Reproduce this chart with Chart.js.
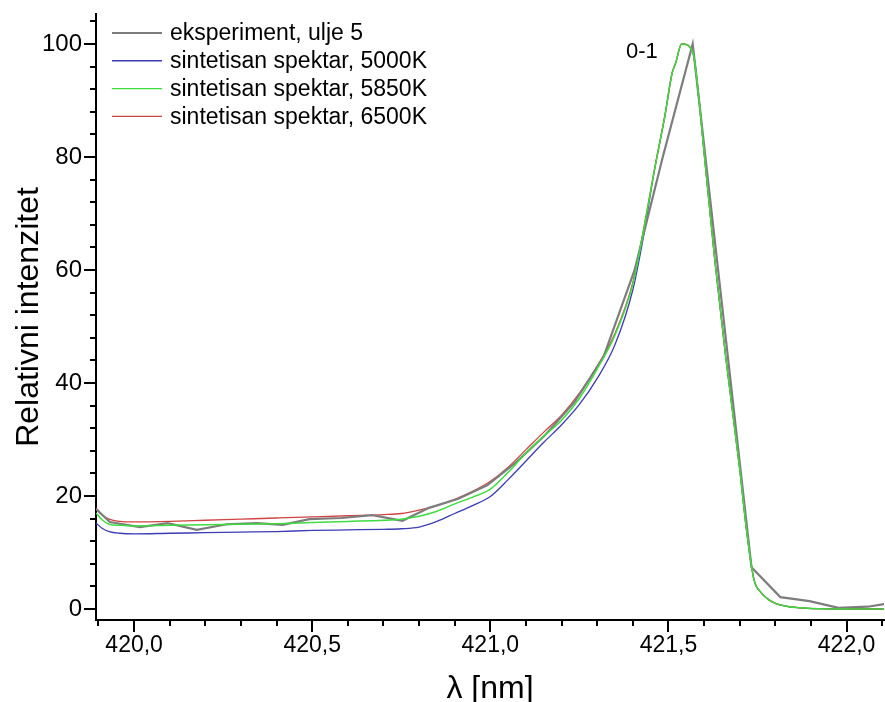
<!DOCTYPE html>
<html>
<head>
<meta charset="utf-8">
<script src="https://cdn.jsdelivr.net/npm/chart.js@4.4.1/dist/chart.umd.min.js"></script>
<style>
  html, body { margin: 0; padding: 0; background: #fff; }
  #wrap { width: 885px; height: 702px; }
</style>
</head>
<body>
<div id="wrap"><canvas id="spectrumChart" width="885" height="702"></canvas></div>
<script>
// eksperiment, ulje 5 (measured points, straight segments)
var expX = [419.893, 419.932, 420.016, 420.094, 420.176, 420.26, 420.344, 420.417, 420.492, 420.582,
            420.669, 420.753, 420.828, 420.91, 420.991, 421.073, 421.154, 421.236, 421.317, 421.405,
            421.484, 421.568, 421.65, 421.733, 421.814, 421.896, 421.977, 422.059, 422.14];
var expY = [17.7, 15.4, 14.5, 15.2, 14.0, 15.0, 15.2, 14.9, 15.9, 16.1,
            16.6, 15.6, 17.9, 19.5, 21.9, 26.0, 30.8, 36.6, 44.5, 60.0,
            80.0, 100.0, 54.0, 7.4, 2.1, 1.4, 0.2, 0.4, 1.2];

// synthetic spectra share one wavelength grid
var synthX = [419.893, 419.91, 419.93, 419.96, 420.0, 420.1, 420.2, 420.3, 420.4, 420.5,
              420.6, 420.7, 420.75, 420.8, 420.85, 420.9, 420.95, 421.0, 421.05, 421.1,
              421.15, 421.2, 421.25, 421.3, 421.35, 421.4, 421.43, 421.46, 421.49, 421.51,
              421.52, 421.537, 421.568, 421.585, 421.6, 421.63, 421.66, 421.7, 421.72, 421.74,
              421.76, 421.78, 421.8, 421.83, 421.87, 421.92, 422.0, 422.105];
var synth5000 = [15.2, 14.3, 13.7, 13.4, 13.3, 13.4, 13.5, 13.6, 13.7, 13.9,
                 14.0, 14.1, 14.2, 14.5, 15.5, 16.9, 18.3, 19.9, 22.9, 26.2,
                 29.5, 32.6, 36.2, 40.8, 46.8, 56.5, 66.0, 77.5, 87.3, 94.8,
                 96.6, 100.0, 98.6, 90.6, 80.8, 61.8, 45.0, 24.8, 13.5, 5.2,
                 2.9, 1.7, 1.0, 0.5, 0.2, 0.05, 0.0, 0.0];
var synth5850 = [17.0, 15.8, 15.0, 14.8, 14.7, 14.8, 14.9, 15.0, 15.1, 15.3,
                 15.5, 15.7, 15.9, 16.4, 17.3, 18.6, 19.8, 21.2, 24.2, 27.6,
                 30.6, 33.4, 37.3, 42.5, 48.5, 57.5, 67.0, 77.5, 87.3, 94.8,
                 96.6, 100.0, 98.6, 90.6, 80.8, 61.8, 45.0, 24.8, 13.5, 5.2,
                 2.9, 1.7, 1.0, 0.5, 0.2, 0.05, 0.0, 0.0];
var synth6500 = [17.9, 16.7, 15.9, 15.5, 15.4, 15.5, 15.7, 15.9, 16.1, 16.3,
                 16.5, 16.7, 16.9, 17.5, 18.3, 19.4, 20.8, 22.6, 25.1, 28.2,
                 31.3, 34.3, 38.2, 43.0, 48.8, 57.8, 67.2, 77.5, 87.3, 94.8,
                 96.6, 100.0, 98.6, 90.6, 80.8, 61.8, 45.0, 24.8, 13.5, 5.2,
                 2.9, 1.7, 1.0, 0.5, 0.2, 0.05, 0.0, 0.0];

var seriesNames = ['eksperiment, ulje 5', 'sintetisan spektar, 5000K', 'sintetisan spektar, 5850K', 'sintetisan spektar, 6500K'];
var seriesColors = ['#7d7d7d', '#3c3cb4', '#3edc3e', '#d04444'];

var xTickLabels = [420.0, 420.5, 421.0, 421.5, 422.0];
var yTickLabels = [0, 20, 40, 60, 80, 100];
var peakLabel = '0-1';

var FONT = '"Liberation Sans", Arial, sans-serif';

function to_points(xs, ys) {
    return xs.map(function(x, i) { return {x: x, y: ys[i]}; });
}

function comma_number(v) {
    return v.toFixed(1).replace('.', ',');
}

// ticks, x tick labels, axis titles, legend and the peak label
var decorPlugin = {
    id: 'decor',
    afterDraw: function(chart) {
        var ctx = chart.ctx;
        var xs = chart.scales.x, ys = chart.scales.y;
        var area = chart.chartArea;
        ctx.save();
        ctx.strokeStyle = '#000';
        ctx.lineWidth = 2;
        ctx.beginPath();
        for (var k = 0; k <= 22; k++) {
            var xv = 419.9 + k * 0.1;
            var px = Math.round(xs.getPixelForValue(xv));
            var len = (k % 5 === 1) ? 12 : 6;
            ctx.moveTo(px, area.bottom);
            ctx.lineTo(px, area.bottom + len);
        }
        for (var j = 0; j <= 26; j++) {
            var yv = j * 4;
            var py = Math.round(ys.getPixelForValue(yv));
            var ylen = (yv % 20 === 0) ? 12 : 6;
            ctx.moveTo(area.left, py);
            ctx.lineTo(area.left - ylen, py);
        }
        ctx.stroke();

        ctx.fillStyle = '#000';
        ctx.textAlign = 'center';
        ctx.textBaseline = 'middle';
        ctx.font = '23px ' + FONT;
        xs.ticks.forEach(function(t) {
            ctx.fillText(comma_number(t.value), xs.getPixelForValue(t.value), 646);
        });

        // axis titles
        ctx.font = '32px ' + FONT;
        ctx.fillText('\u03bb [nm]', (area.left + area.right) / 2, 689);
        ctx.save();
        ctx.translate(29, (area.top + area.bottom) / 2);
        ctx.rotate(-Math.PI / 2);
        ctx.fillText('Relativni intenzitet', 0, 0);
        ctx.restore();

        // legend
        ctx.font = '23px ' + FONT;
        ctx.textAlign = 'left';
        for (var i = 0; i < seriesNames.length; i++) {
            var ly = 33 + i * 27.8;
            ctx.strokeStyle = seriesColors[i];
            ctx.lineWidth = i === 0 ? 2 : 1.4;
            ctx.beginPath();
            ctx.moveTo(112, ly);
            ctx.lineTo(162, ly);
            ctx.stroke();
            ctx.fillText(seriesNames[i], 170, ly + 1);
        }

        ctx.font = '22px ' + FONT;
        ctx.fillText(peakLabel, 626, 52);
        ctx.restore();
    }
};

var ctx = document.getElementById('spectrumChart').getContext('2d');
new Chart(ctx, {
    type: 'line',
    data: {
        datasets: [
            {label: seriesNames[0], data: to_points(expX, expY), borderColor: seriesColors[0], borderWidth: 2.2, tension: 0, order: 1},
            {label: seriesNames[1], data: to_points(synthX, synth5000), borderColor: seriesColors[1], borderWidth: 1.3, cubicInterpolationMode: 'monotone', order: 3},
            {label: seriesNames[2], data: to_points(synthX, synth5850), borderColor: seriesColors[2], borderWidth: 1.5, cubicInterpolationMode: 'monotone', order: 0},
            {label: seriesNames[3], data: to_points(synthX, synth6500), borderColor: seriesColors[3], borderWidth: 1.3, cubicInterpolationMode: 'monotone', order: 2}
        ]
    },
    options: {
        responsive: false,
        animation: false,
        elements: {point: {radius: 0}},
        layout: {padding: {top: 14, right: 1, left: 0, bottom: 0}},
        plugins: {legend: {display: false}, tooltip: {enabled: false}},
        scales: {
            x: {
                type: 'linear',
                min: 419.893,
                max: 422.105,
                grid: {display: false},
                border: {display: true, color: '#000', width: 2},
                afterBuildTicks: function(scale) {
                    scale.ticks = xTickLabels.map(function(v) { return {value: v}; });
                },
                afterFit: function(scale) {
                    scale.height = 82;
                    scale.paddingLeft = 0;
                    scale.paddingRight = 0;
                },
                ticks: {display: false}
            },
            y: {
                type: 'linear',
                min: -1.95,
                max: 105.3,
                grid: {display: false},
                border: {display: true, color: '#000', width: 2},
                afterBuildTicks: function(scale) {
                    scale.ticks = yTickLabels.map(function(v) { return {value: v}; });
                },
                afterFit: function(scale) {
                    scale.width = 96;
                    scale.paddingTop = 0;
                    scale.paddingBottom = 0;
                },
                ticks: {
                    padding: 6,
                    color: '#000',
                    font: {family: FONT, size: 24},
                    autoSkip: false,
                    callback: function(v) { return String(v); }
                }
            }
        }
    },
    plugins: [decorPlugin]
});
</script>
</body>
</html>
